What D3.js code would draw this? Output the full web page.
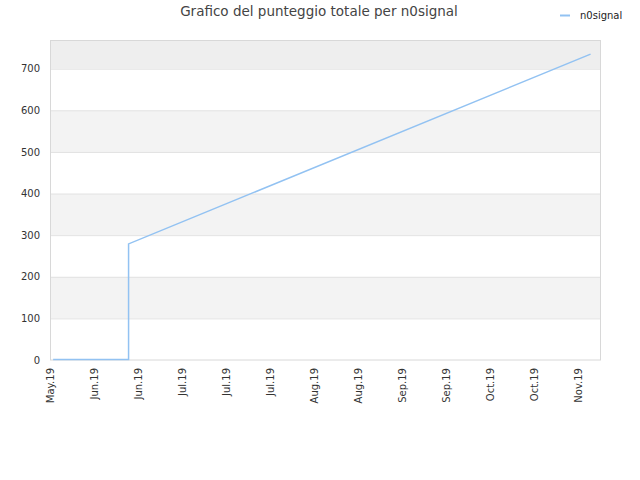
<!DOCTYPE html>
<html>
<head>
<meta charset="utf-8">
<script src="https://cdn.jsdelivr.net/npm/d3@7"></script>
<style>
	body { margin: 0; background: #fff; }
	text { font-family: "DejaVu Sans", sans-serif; }
</style>
</head>
<body>
<svg width="640" height="480" id="chart"></svg>
<script>
	// data
	var seriesName = "n0signal";
	var dates = ["2019-05-22", "2019-06-15", "2019-06-15", "2019-11-09"];
	var values = [1, 1, 279, 735];
	var tickDates = ["2019-05-21", "2019-06-04", "2019-06-18", "2019-07-02", "2019-07-16", "2019-07-30",
		"2019-08-13", "2019-08-27", "2019-09-10", "2019-09-24", "2019-10-08", "2019-10-22", "2019-11-05"];
	var yTicks = [0, 100, 200, 300, 400, 500, 600, 700];
	var yMax = 769;

	var parse = d3.timeParse("%Y-%m-%d");
	var data = dates.map(function(d, i) { return { date: parse(d), value: values[i] }; });

	var svg = d3.select("svg#chart"),
		margin = { top: 40, right: 40, bottom: 120, left: 50 },
		width = +svg.attr("width") - margin.left - margin.right,
		height = +svg.attr("height") - margin.top - margin.bottom,
		g = svg.append("g").attr("transform", "translate(" + margin.left + "," + margin.top + ")");

	var x = d3.scaleTime()
		.domain([parse("2019-05-21"), parse("2019-11-12")])
		.range([0, width]);

	var y = d3.scaleLinear()
		.domain([0, yMax])
		.range([height, 0]);

	// alternating bands
	var bands = yTicks.map(function(t, i) { return [t, i + 1 < yTicks.length ? yTicks[i + 1] : yMax]; });
	g.selectAll(".band")
		.data(bands)
		.enter().append("rect")
		.attr("class", "band")
		.attr("x", 0)
		.attr("width", width)
		.attr("y", function(d) { return y(d[1]); })
		.attr("height", function(d) { return y(d[0]) - y(d[1]); })
		.attr("fill", function(d, i) { return i % 2 ? (i === bands.length - 1 ? "#eeeeee" : "#f3f3f3") : "#ffffff"; });

	// grid lines
	g.selectAll(".grid")
		.data(yTicks.slice(1))
		.enter().append("line")
		.attr("x1", 0).attr("x2", width)
		.attr("y1", function(d) { return y(d) + 0.5; })
		.attr("y2", function(d) { return y(d) + 0.5; })
		.attr("stroke", "#e2e2e2");

	// plot border
	g.append("rect")
		.attr("x", 0.5).attr("y", 0.5)
		.attr("width", width).attr("height", height - 0.5)
		.attr("fill", "none")
		.attr("stroke", "#d8d8d8");

	// y axis
	var yAxis = g.append("g")
		.call(d3.axisLeft(y).tickValues(yTicks).tickSize(0).tickPadding(10));
	yAxis.select(".domain").remove();
	yAxis.selectAll("text").style("font-size", "10px").style("fill", "#333");

	// x axis
	var xAxis = g.append("g")
		.attr("transform", "translate(0," + height + ")")
		.call(d3.axisBottom(x).tickValues(tickDates.map(parse)).tickFormat(d3.timeFormat("%b.%y")).tickSize(0));
	xAxis.select(".domain").remove();
	xAxis.selectAll("text")
		.style("font-size", "10px")
		.style("fill", "#333")
		.style("text-anchor", "end")
		.attr("y", 0)
		.attr("dx", "-8px")
		.attr("dy", "0.35em")
		.attr("transform", "rotate(-90)");

	// series line
	var line = d3.line()
		.x(function(d) { return x(d.date); })
		.y(function(d) { return y(d.value); });

	g.append("path")
		.datum(data)
		.attr("fill", "none")
		.attr("stroke", "#92c2f2")
		.attr("stroke-width", 1.5)
		.attr("d", line);

	// title
	svg.append("text")
		.attr("x", 319)
		.attr("y", 16)
		.attr("text-anchor", "middle")
		.style("fill", "#444")
		.style("font-size", "13.5px")
		.text("Grafico del punteggio totale per " + seriesName);

	// legend
	svg.append("line")
		.attr("x1", 560).attr("x2", 570)
		.attr("y1", 15.5).attr("y2", 15.5)
		.attr("stroke", "#92c2f2")
		.attr("stroke-width", 2);
	svg.append("text")
		.attr("x", 580)
		.attr("y", 19)
		.style("fill", "#222")
		.style("font-size", "10px")
		.text(seriesName);
</script>
</body>
</html>
